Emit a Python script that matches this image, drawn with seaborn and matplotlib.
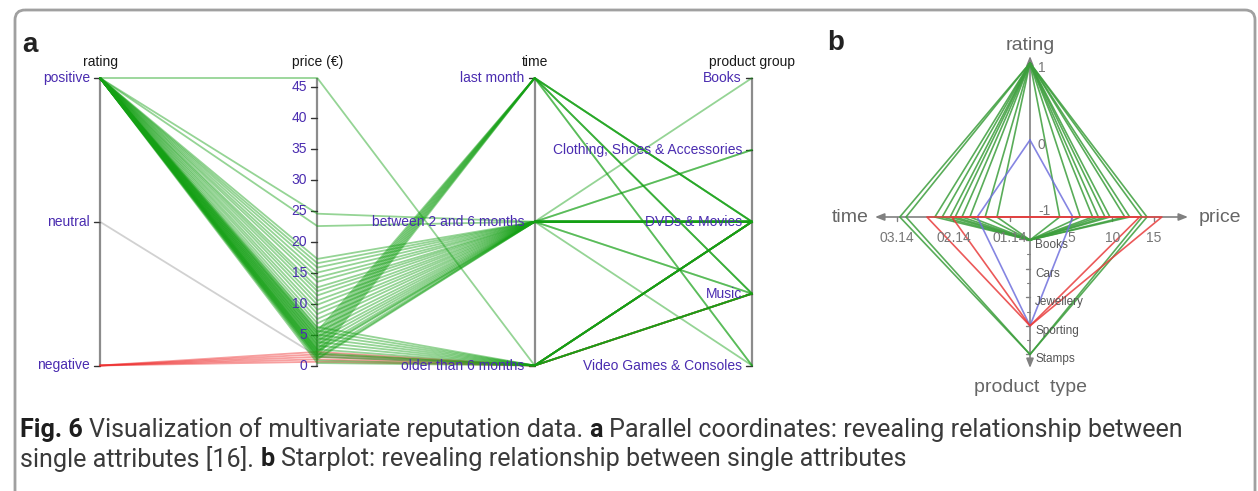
import numpy as np
import pandas as pd
import matplotlib
matplotlib.use("Agg")
import matplotlib.pyplot as plt
import matplotlib.transforms as mtransforms
from matplotlib.patches import FancyBboxPatch
import seaborn as sns

# ---------------- data : panel a (parallel coordinates) ----------------
axis_titles = ["rating", "price (\u20ac)", "time", "product group"]
rating_levels = ["negative", "neutral", "positive"]
time_levels = ["older", "between", "last"]
time_labels = {"older": "older than 6 months", "between": "between 2 and 6 months", "last": "last month"}
group_levels = ["Games", "Music", "DVDs", "Clothing", "Books"]
group_labels = {"Games": "Video Games & Consoles", "Music": "Music", "DVDs": "DVDs & Movies",
                "Clothing": "Clothing, Shoes & Accessories", "Books": "Books"}
price_ticks = [0, 5, 10, 15, 20, 25, 30, 35, 40, 45]
price_max = 46.4

pc_rating = (["negative"] * 5 + ["neutral"] + ["positive"] * 50)
pc_price = [0.6, 1.0, 1.4, 1.8, 2.2,
            1.5,
            46.4, 24.5, 22.5, 17.2, 16.5, 15.8, 15.0, 14.2, 13.5, 12.6,
            12.0, 11.3, 10.5, 9.8, 9.0, 8.3, 7.5, 6.8, 6.0, 5.3,
            4.6, 4.0, 3.4, 2.8, 2.2, 1.6, 1.0, 5.5, 5.0, 4.5,
            4.0, 3.5, 3.0, 2.5, 2.0, 1.5, 6.2, 5.6, 5.0, 4.4,
            3.8, 3.2, 2.6, 2.0, 1.4, 0.8, 0.4, 1.2, 1.8, 2.4]
pc_time = ["older"] * 5 + ["older"] + \
          ["older"] + ["between"] * 26 + ["last"] * 9 + ["older"] * 11 + ["between", "older", "between"]
pc_group = ["Music", "DVDs", "Music", "DVDs", "Music",
            "DVDs",
            "DVDs", "DVDs", "DVDs", "DVDs", "Clothing", "DVDs", "DVDs", "Music", "DVDs", "DVDs",
            "Books", "DVDs", "DVDs", "Games", "DVDs", "DVDs", "DVDs", "DVDs", "Music", "DVDs",
            "Clothing", "DVDs", "DVDs", "DVDs", "DVDs", "DVDs", "DVDs", "DVDs", "DVDs", "Music",
            "Music", "Games", "DVDs", "Games", "Music", "DVDs", "DVDs", "Music", "DVDs", "Music",
            "DVDs", "Music", "DVDs", "Music", "DVDs", "Music", "DVDs", "DVDs", "DVDs", "DVDs"]

# ---------------- data : panel b (star plot) ----------------
star_kind = ["positive"] * 10 + ["negative"] * 2 + ["neutral"]
star_rating = [1, 1, 1, 1, 1, 1, 1, 1, 1, 1, -1, -1, 0]
star_price = [14.2, 13.6, 12.1, 11.5, 9.7, 9.1, 7.6, 6.1, 3.6, 8.3, 16.0, 13.3, 5.2]
star_time = [2.95, 2.84, 2.33, 2.20, 1.97, 1.85, 1.71, 1.44, 1.23, 2.06, 2.47, 2.03, 1.58]
star_product = ["Stamps", "Stamps", "Books", "Books", "Books", "Books", "Books", "Books", "Books", "Books",
                "Sporting", "Sporting", "Sporting"]
product_types = ["Books", "Cars", "Jewellery", "Sporting", "Stamps"]
star_time_ticks = [1, 2, 3]
star_time_ticklabels = ["01.14", "02.14", "03.14"]
star_price_ticks = [5, 10, 15]
star_rating_ticks = [1, 0, -1]

caption_line1 = [("Fig. 6", True), ("Visualization of multivariate reputation data.", False),
                 ("a", True), ("Parallel coordinates: revealing relationship between", False)]
caption_line2 = [("single attributes [16].", False), ("b", True),
                 ("Starplot: revealing relationship between single attributes", False)]

# ---------------- figure ----------------
W, H = 1258, 491
sns.set_theme(style="white")
plt.rcParams["font.family"] = ["Liberation Sans", "DejaVu Sans"]
fig = plt.figure(figsize=(W / 100, H / 100), dpi=100)
fig.patch.set_facecolor("white")

# frame
ax_bg = fig.add_axes([0, 0, 1, 1], zorder=-5)
ax_bg.set_xlim(0, W); ax_bg.set_ylim(H, 0); ax_bg.axis("off")
ax_bg.add_patch(FancyBboxPatch((15, 10), 1240, 540, boxstyle="round,pad=0,rounding_size=10",
                               fill=False, ec="#a0a0a0", lw=2))

# panel letters
fig.text(30 / W, 1 - 45 / H, "a", fontsize=20, fontweight="bold", color="#222", ha="center", va="center")
fig.text(836 / W, 1 - 43 / H, "b", fontsize=20, fontweight="bold", color="#222", ha="center", va="center")

# ---------------- panel a ----------------
top_px, bot_px = 78, 365.5
ax = fig.add_axes([100 / W, (H - bot_px) / H, 652 / W, (bot_px - top_px) / H])
ax.set_xlim(0, 3); ax.set_ylim(0, 1); ax.axis("off")
px_x = 652 / 3.0

def norm_rating(v): return rating_levels.index(v) / (len(rating_levels) - 1)
def norm_price(v): return v / price_max
def norm_time(v): return time_levels.index(v) / (len(time_levels) - 1)
def norm_group(v): return group_levels.index(v) / (len(group_levels) - 1)

rows = []
for i, (r, p, t, g) in enumerate(zip(pc_rating, pc_price, pc_time, pc_group)):
    for k, val in enumerate([norm_rating(r), norm_price(p), norm_time(t), norm_group(g)]):
        rows.append({"id": i, "axis": k, "value": val, "rating": r})
pc_df = pd.DataFrame(rows)

for k in range(4):
    ax.plot([k, k], [0, 1], color="#8c8c8c", lw=1.6, zorder=1, solid_capstyle="butt")

sns.lineplot(data=pc_df, x="axis", y="value", units="id", estimator=None, hue="rating",
             hue_order=["negative", "neutral", "positive"],
             palette={"negative": "#ee2a2a", "neutral": "#9a9a9a", "positive": "#14a014"},
             alpha=0.45, lw=1.3, legend=False, ax=ax, zorder=3)
for ln in ax.lines:
    ln.set_clip_on(False)

def off(dx, dy):
    return mtransforms.offset_copy(ax.transData, fig=fig, x=dx, y=dy, units="dots")

lab_col = "#4a2cb0"
lab_fs = 10
tick_len = 6 / px_x

def ticks_and_labels(k, positions, labels):
    for pos, lab in zip(positions, labels):
        ax.plot([k - tick_len, k], [pos, pos], color="#333", lw=1.0, zorder=2, clip_on=False)
        ax.text(k, pos, lab, transform=off(-10, 0), ha="right", va="center",
                fontsize=lab_fs, color=lab_col)

ticks_and_labels(0, [norm_rating(v) for v in rating_levels], rating_levels)
ticks_and_labels(1, [norm_price(v) for v in price_ticks], [str(v) for v in price_ticks])
ticks_and_labels(2, [norm_time(v) for v in time_levels], [time_labels[v] for v in time_levels])
ticks_and_labels(3, [norm_group(v) for v in group_levels], [group_labels[v] for v in group_levels])

for k, title in enumerate(axis_titles):
    ax.text(k, 1, title, transform=off(0, 16), ha="center", va="center", fontsize=10, color="#1a1a1a")

# ---------------- panel b ----------------
cx, cy = 1030, 217
axs = fig.add_axes([820 / W, (H - 400) / H, 438 / W, 370 / H])
axs.set_xlim(820 - cx, W - cx); axs.set_ylim(cy - 400, cy - 30); axs.axis("off")

R_UNIT, P_UNIT, T_UNIT, T0 = 77.0, 8.24, 56.5, 0.646
PROD0, PROD_STEP = 23.0, 28.6
def r_pos(v): return (v + 1) * R_UNIT
def p_pos(v): return v * P_UNIT
def t_pos(v): return (v - T0) * T_UNIT
def prod_pos(v): return PROD0 + PROD_STEP * product_types.index(v)

srows = []
for i, (kind, r, p, t, pr) in enumerate(zip(star_kind, star_rating, star_price, star_time, star_product)):
    verts = [(0, r_pos(r)), (p_pos(p), 0), (0, -prod_pos(pr)), (-t_pos(t), 0), (0, r_pos(r))]
    for j, (x, y) in enumerate(verts):
        srows.append({"id": i, "step": j, "x": x, "y": y, "kind": kind})
star_df = pd.DataFrame(srows)

axis_col = "#808080"
arrow_kw = dict(arrowstyle="-|>,head_length=0.45,head_width=0.18", color=axis_col, lw=1.2,
                shrinkA=0, shrinkB=0)
for end in [(0, 161), (158, 0), (-155, 0), (0, -151)]:
    axs.annotate("", xy=end, xytext=(0, 0), arrowprops=arrow_kw, zorder=1)

sns.lineplot(data=star_df, x="x", y="y", units="id", estimator=None, sort=False, hue="kind",
             hue_order=["positive", "neutral", "negative"],
             palette={"positive": "#3c9e3c", "neutral": "#7070dd", "negative": "#e83c3c"},
             lw=1.2, alpha=0.85, legend=False, ax=axs, zorder=3)

tick_col = "#777777"
for v, lab in zip(star_time_ticks, star_time_ticklabels):
    axs.plot([-t_pos(v), -t_pos(v)], [0, -4], color=axis_col, lw=1)
    axs.text(-t_pos(v), -21, lab, ha="center", va="center", fontsize=10, color=tick_col)
for v in star_price_ticks:
    axs.plot([p_pos(v), p_pos(v)], [0, -4], color=axis_col, lw=1)
    axs.text(p_pos(v), -21, str(v), ha="center", va="center", fontsize=10, color=tick_col)
for v in star_rating_ticks:
    axs.text(8, max(r_pos(v) - 5, 6), str(v), ha="left", va="center", fontsize=10, color=tick_col)
for k, pt in enumerate(product_types):
    axs.plot([-4, 0], [-prod_pos(pt), -prod_pos(pt)], color=axis_col, lw=1)
    if k < len(product_types) - 1:
        mid = -(prod_pos(pt) + PROD_STEP / 2)
        axs.plot([-3, 0], [mid, mid], color=axis_col, lw=0.8)
    axs.text(5, -prod_pos(pt) - 5, pt, ha="left", va="center", fontsize=8.5, color="#555555")

axs.text(0, cy - 45, "rating", ha="center", va="center", fontsize=14, color="#666666")
axs.text(1220 - cx, 0, "price", ha="center", va="center", fontsize=14, color="#666666")
axs.text(850 - cx, 0, "time", ha="center", va="center", fontsize=14, color="#666666")
axs.text(0, cy - 388, "product  type", ha="center", va="center", fontsize=14, color="#666666")

# ---------------- caption ----------------
cap_font = ["Roboto", "DejaVu Sans"]
renderer = fig.canvas.get_renderer()

def seg_w(s, fs, bold):
    t = fig.text(0, 0, s, fontsize=fs, fontweight="bold" if bold else "normal", family=cap_font)
    w = t.get_window_extent(renderer).width
    t.remove()
    return w

def line_width(segs, fs):
    sp = seg_w("a a", fs, False) - seg_w("aa", fs, False)
    return sum(seg_w(s, fs, b) for s, b in segs) + sp * (len(segs) - 1), sp

fs0 = 14
w0, _ = line_width(caption_line1, fs0)
cap_fs = fs0 * (1192 - 20) / w0

def draw_line(segs, x0, ypix):
    _, sp = line_width(segs, cap_fs)
    x = x0
    for s, b in segs:
        fig.text(x / W, 1 - ypix / H, s, fontsize=cap_fs, fontweight="bold" if b else "normal",
                 family=cap_font, color="#1e1e1e" if b else "#3a3a3a", ha="left", va="center")
        x += seg_w(s, cap_fs, b) + sp

draw_line(caption_line1, 20, 430)
draw_line(caption_line2, 20, 459)

fig.savefig("out.png", dpi=100, facecolor="white")
